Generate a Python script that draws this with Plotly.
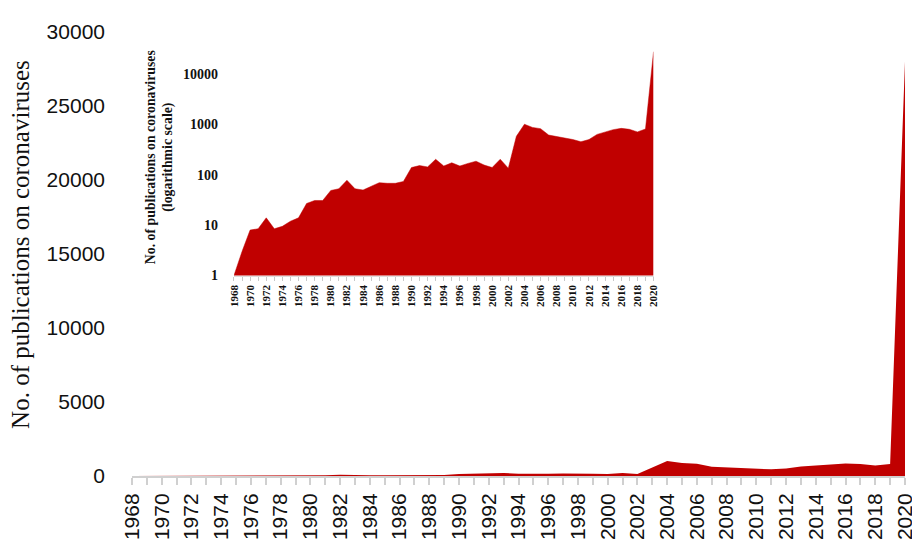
import plotly.graph_objects as go

years = list(range(1968, 2021))
publications = [1, 3, 8, 8.5, 14, 8.5, 9.5, 12, 14, 27,
                31, 31, 49, 53, 78, 53, 50, 59, 70, 68,
                68, 74, 140, 153, 144, 204, 150, 174, 150, 169,
                187, 157, 140, 204, 136, 583, 1015, 877, 828, 618,
                583, 550, 504, 455, 504, 637, 715, 792, 840, 804,
                715, 815, 28000]
tick_labels = [str(y) if y % 2 == 0 else "" for y in years]
main_ticks = [0, 5000, 10000, 15000, 20000, 25000, 30000]
log_ticks = [1, 10, 100, 1000, 10000]

RED = "#C00000"
fig = go.Figure()
fig.add_trace(go.Scatter(x=years, y=publications, mode="lines", fill="tozeroy",
                         line=dict(color=RED, width=0), fillcolor=RED,
                         xaxis="x", yaxis="y", showlegend=False))
fig.add_trace(go.Scatter(x=years, y=publications, mode="lines", fill="tozeroy",
                         line=dict(color=RED, width=0.5), fillcolor=RED,
                         xaxis="x2", yaxis="y2", showlegend=False))

sans = "Liberation Sans"
serif = "Liberation Serif"

fig.update_layout(
    width=920, height=544,
    margin=dict(l=124, r=13, t=18, b=62),
    paper_bgcolor="white", plot_bgcolor="white",
    xaxis=dict(range=[1968, 2020], tickvals=years, ticktext=tick_labels,
               tickangle=-90, ticks="outside", ticklen=7, tickcolor="#d0d0d0",
               tickwidth=1.5, showline=True, linecolor="#d0d0d0", linewidth=2,
               showgrid=False, zeroline=False,
               tickfont=dict(family=sans, size=21, color="#111")),
    yaxis=dict(range=[0, 30000], tickvals=main_ticks,
               ticktext=[str(v) for v in main_ticks],
               showgrid=False, showline=False,
               zeroline=False, ticklabelstandoff=26,
               tickfont=dict(family=sans, size=21, color="#111")),
    xaxis2=dict(domain=[0.1319, 0.6747], anchor="y2", range=[1968, 2020],
                tickvals=years, ticktext=tick_labels, tickangle=-90,
                ticks="outside", ticklen=4, tickcolor="#c8c8c8",
                showline=True, linecolor="#dddddd", linewidth=1,
                showgrid=False, zeroline=False,
                tickfont=dict(family=serif, size=11, color="#111", weight="bold")),
    yaxis2=dict(domain=[0.4515, 0.9616], anchor="x2", type="log", range=[0, 4.5],
                tickvals=log_ticks, ticktext=[str(v) for v in log_ticks],
                showgrid=False, showline=False, zeroline=False,
                ticklabelstandoff=15,
                tickfont=dict(family=serif, size=14, color="#111", weight="bold")),
    annotations=[
        dict(text="No. of publications on coronaviruses", textangle=-90,
             xref="paper", yref="paper", x=-0.144, y=0.522,
             xanchor="center", yanchor="middle",
             showarrow=False, font=dict(family=serif, size=25, color="#111")),
        dict(text="No. of publications on coronaviruses<br>(logarithmic scale)",
             textangle=-90, xref="paper", yref="paper", x=0.036, y=0.72,
             xanchor="center", yanchor="middle",
             showarrow=False,
             font=dict(family=serif, size=13.8, color="#111", weight="bold")),
    ],
)

fig.write_html("out.html")
